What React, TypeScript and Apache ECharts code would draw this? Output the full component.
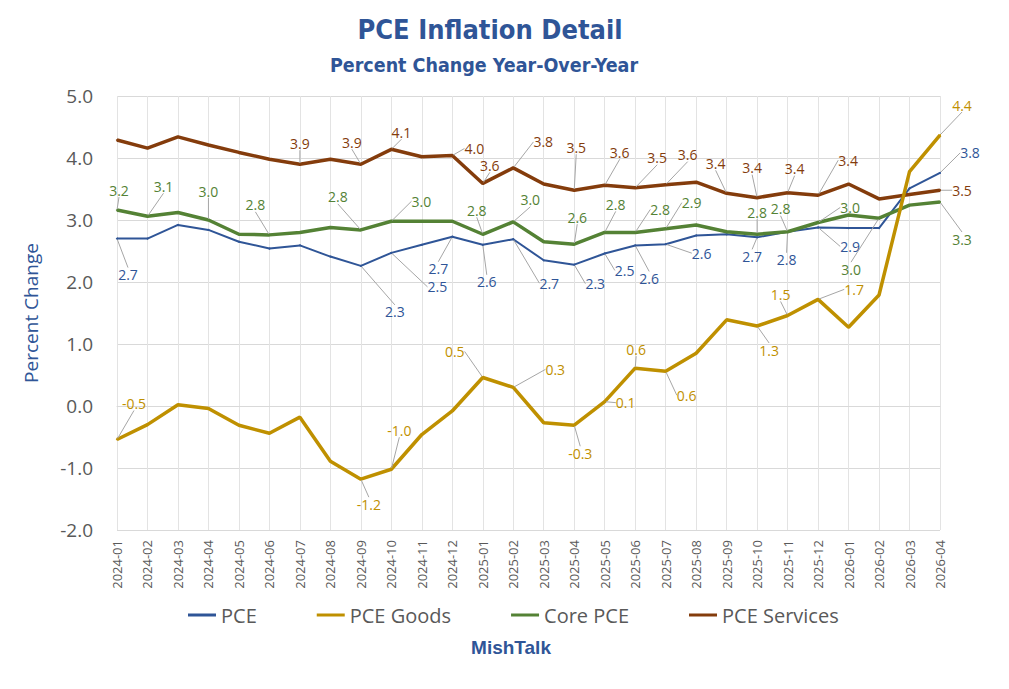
import React, { useEffect, useRef } from "react";
import * as echarts from "echarts";

const months = [
  "2024-01", "2024-02", "2024-03", "2024-04", "2024-05", "2024-06", "2024-07",
  "2024-08", "2024-09", "2024-10", "2024-11", "2024-12", "2025-01", "2025-02",
  "2025-03", "2025-04", "2025-05", "2025-06", "2025-07", "2025-08", "2025-09",
  "2025-10", "2025-11", "2025-12", "2026-01", "2026-02", "2026-03", "2026-04",
];

const pce = [
  2.7, 2.7, 2.92, 2.84, 2.65, 2.54, 2.59, 2.41, 2.26, 2.47, 2.6, 2.73, 2.6, 2.69,
  2.35, 2.28, 2.46, 2.59, 2.61, 2.75, 2.77, 2.72, 2.81, 2.88, 2.87, 2.87, 3.51, 3.76,
];
const pceGoods = [
  -0.54, -0.3, 0.02, -0.04, -0.31, -0.44, -0.18, -0.89, -1.18, -1.02, -0.46, -0.08,
  0.46, 0.3, -0.27, -0.31, 0.07, 0.61, 0.56, 0.85, 1.39, 1.29, 1.46, 1.72, 1.27, 1.79,
  3.78, 4.37,
];
const corePce = [
  3.16, 3.06, 3.12, 3.0, 2.77, 2.76, 2.8, 2.88, 2.84, 2.98, 2.98, 2.98, 2.77, 2.97,
  2.65, 2.61, 2.8, 2.8, 2.86, 2.92, 2.81, 2.77, 2.81, 2.96, 3.08, 3.03, 3.24, 3.29,
];
const pceServices = [
  4.29, 4.16, 4.34, 4.21, 4.09, 3.98, 3.9, 3.98, 3.9, 4.14, 4.02, 4.04, 3.59, 3.84,
  3.58, 3.48, 3.56, 3.52, 3.57, 3.61, 3.43, 3.36, 3.44, 3.4, 3.58, 3.34, 3.41, 3.48,
];
const yTicks = [-2, -1, 0, 1, 2, 3, 4, 5];

// label placement (pixel offset of label centre from its point), only labelled points listed
type Offsets = Record<number, [number, number]>;
const pceLabels: Offsets = {
  0: [11, 36], 8: [34, 46], 9: [46, 34], 11: [-14, 32], 12: [4, 37], 13: [36, 44],
  15: [21, 19], 16: [20, 17], 17: [14, 33], 18: [36, 9], 21: [-5, 19], 22: [-1, 28],
  23: [32, 19], 27: [30, -20],
};
const goodsLabels: Offsets = {
  0: [17, -36], 8: [8, 25], 9: [8, -39], 12: [-28, -26], 13: [42, -18], 15: [6, 28],
  16: [21, 1], 17: [1, -19], 18: [21, 24], 21: [12, 24], 22: [-7, -21], 23: [36, -10],
  27: [22, -30],
};
const coreLabels: Offsets = {
  0: [2, -20], 1: [16, -30], 3: [0, -29], 5: [-14, -30], 8: [-23, -33], 9: [30, -20],
  12: [-6, -24], 13: [17, -22], 15: [3, -27], 16: [11, -28], 17: [25, -23], 18: [26, -26],
  21: [0, -22], 22: [-7, -23], 23: [32, -15], 25: [-28, 51], 27: [22, 37],
};
const servicesLabels: Offsets = {
  6: [0, -21], 8: [-9, -22], 9: [10, -17], 11: [22, -7], 12: [7, -18], 13: [30, -26],
  15: [2, -43], 16: [15, -33], 17: [22, -30], 18: [22, -30], 20: [-11, -30], 21: [-5, -30],
  22: [7, -24], 23: [30, -35], 27: [22, 0],
};

const FONT = '"Open Sans", "Liberation Sans", sans-serif';
const NARROW = '"Liberation Sans Narrow", "DejaVu Sans Condensed", sans-serif';

const makeSeries = (
  name: string,
  values: number[],
  color: string,
  width: number,
  offsets: Offsets,
  z: number
) => ({
  name,
  type: "line",
  z,
  silent: true,
  data: values.map((v, i) => (offsets[i] ? { value: v, label: { show: true } } : v)),
  symbol: "circle",
  symbolSize: 2,
  showSymbol: true,
  showAllSymbol: true,
  itemStyle: { color },
  lineStyle: { color, width },
  emphasis: { disabled: true },
  label: {
    show: false,
    color,
    fontSize: 14,
    fontFamily: FONT,
    formatter: (p: any) => Number(p.value).toFixed(1),
  },
  labelLine: { show: true, lineStyle: { color: "#A6A6A6", width: 1 } },
  labelLayout: (p: any) => {
    const o = offsets[p.dataIndex];
    if (!o) return {};
    return {
      x: p.rect.x + p.rect.width / 2 + o[0],
      y: p.rect.y + p.rect.height / 2 + o[1],
      align: "center",
      verticalAlign: "middle",
    };
  },
});

const App: React.FC = () => {
  const chartRef = useRef<HTMLDivElement>(null);

  useEffect(() => {
    if (!chartRef.current) return;
    const chart = echarts.init(chartRef.current, undefined, { renderer: "svg" });

    const option = {
      animation: false,
      backgroundColor: "#ffffff",
      title: [
        {
          text: "PCE Inflation Detail",
          left: 485,
          top: 11,
          textAlign: "center",
          textStyle: { color: "#2F5597", fontSize: 27, fontWeight: "bold", fontFamily: NARROW },
        },
        {
          text: "Percent Change Year-Over-Year",
          left: 479,
          top: 50,
          textAlign: "center",
          textStyle: { color: "#2F5597", fontSize: 19.5, fontWeight: "bold", fontFamily: NARROW },
        },
        {
          text: "MishTalk",
          left: 506,
          top: 633,
          textAlign: "center",
          textStyle: { color: "#2F5597", fontSize: 19, fontWeight: "bold", fontFamily: '"Liberation Sans", Arial, sans-serif' },
        },
      ],
      legend: {
        left: 183,
        top: 600,
        itemWidth: 28,
        itemHeight: 3,
        itemGap: 60,
        icon: "rect",
        textStyle: { color: "#595959", fontSize: 20, fontFamily: FONT },
        data: ["PCE", "PCE Goods", "Core PCE", "PCE Services"],
      },
      grid: { left: 117, right: 69, top: 96, bottom: 159 },
      xAxis: {
        type: "category",
        data: months,
        boundaryGap: false,
        axisLine: { show: true, lineStyle: { color: "#D9D9D9" } },
        axisTick: { show: false },
        splitLine: { show: true, lineStyle: { color: "#E3E3E3" } },
        axisLabel: {
          rotate: 90,
          interval: 0,
          margin: 10,
          color: "#595959",
          fontSize: 13,
          fontFamily: FONT,
        },
      },
      yAxis: {
        type: "value",
        min: yTicks[0],
        max: yTicks[yTicks.length - 1],
        interval: 1,
        name: "Percent Change",
        nameLocation: "middle",
        nameGap: 77,
        nameRotate: 90,
        nameTextStyle: { color: "#2F5597", fontSize: 19, fontFamily: FONT },
        axisLine: { show: false },
        axisTick: { show: false },
        splitLine: { lineStyle: { color: "#D9D9D9" } },
        axisLabel: {
          margin: 24,
          color: "#595959",
          fontSize: 19,
          fontFamily: FONT,
          formatter: (v: number) => v.toFixed(1),
        },
      },
      series: [
        makeSeries("PCE", pce, "#2F5597", 2, pceLabels, 2),
        makeSeries("PCE Goods", pceGoods, "#BF9000", 3.5, goodsLabels, 5),
        makeSeries("Core PCE", corePce, "#548235", 3.5, coreLabels, 3),
        makeSeries("PCE Services", pceServices, "#843C0C", 3.5, servicesLabels, 4),
      ],
    };

    chart.setOption(option as any);

    return () => {
      chart.dispose();
    };
  }, []);

  return (
    <div
      ref={chartRef}
      style={{ position: "fixed", left: 0, top: 0, width: "1009px", height: "689px" }}
    />
  );
};

export default App;
